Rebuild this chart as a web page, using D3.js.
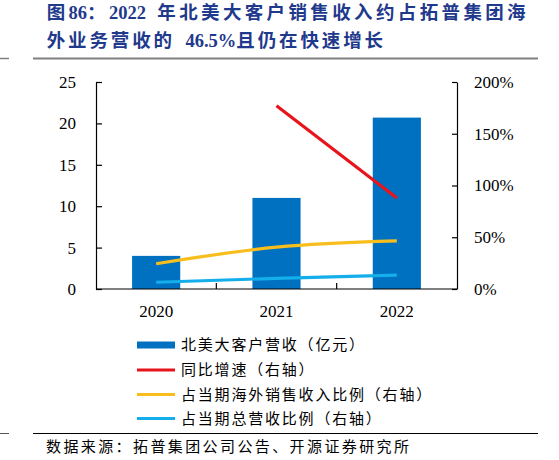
<!DOCTYPE html>
<html><head><meta charset="utf-8">
<script src="https://cdn.jsdelivr.net/npm/d3@7"></script>
<style>
body{margin:0;background:#fff;}
svg{display:block;}
</style></head>
<body>
<svg id="c" width="559" height="460"></svg>
<script>
const categories = ["2020","2021","2022"];
const revenue = [4.0, 11.0, 20.7];            // 北美大客户营收（亿元）
const growth = [null, 1.77, 0.88];            // 同比增速（右轴）
const overseasShare = [0.244, 0.405, 0.465];  // 占当期海外销售收入比例（右轴）
const totalShare = [0.065, 0.103, 0.135];     // 占当期总营收比例（右轴）
const leftTicks = [0,5,10,15,20,25];
const rightTicks = [0,0.5,1,1.5,2];
const legendLabels = ["北美大客户营收（亿元）","同比增速（右轴）","占当期海外销售收入比例（右轴）","占当期总营收比例（右轴）"];
const titleLines = ["图86：2022 年北美大客户销售收入约占拓普集团海","外业务营收的 46.5%且仍在快速增长"];
const sourceText = "数据来源：拓普集团公司公告、开源证券研究所";

const colors = {bar:"#0070C0", red:"#E8141B", yellow:"#F7BE1E", blue:"#14AEEB", title:"#1F3A8C"};
const svg = d3.select("#c");
const FONT_LAT = "'Liberation Serif','Times New Roman',serif";
const FONT_CJK = "'Liberation Serif','Noto Sans CJK SC',sans-serif";

// Title: split into CJK runs and spaces (spaced) and Latin runs (tight)
function titleLine(str, x, y, targetEnd){
  const runs = str.match(/[0-9.%]+|\s+|[^0-9.%\s]+/g);
  const t = svg.append("text").attr("x",x).attr("y",y).attr("xml:space","preserve")
    .attr("font-family",FONT_CJK).attr("font-weight","bold").attr("font-size",18.5).attr("fill",colors.title);
  const isLat = r => /[0-9.%]/.test(r[0]);
  const spans = runs.map(r=>t.append("tspan").text(r).attr("data-sp", isLat(r)?0:(/\s/.test(r[0])?2:1)));
  const count = runs.filter(r=>!isLat(r)).reduce((a,r)=>a+(/\s/.test(r[0])?2:r.length),0);
  const w0 = t.node().getComputedTextLength();
  const s = Math.max(0,(targetEnd - x - w0)/count);
  spans.forEach(sp=>{ const k=+sp.attr("data-sp"); if(k>0) sp.attr("letter-spacing",s*(k===2?2:1)); });
}
titleLine(titleLines[0],46.7,18.5,529);
titleLine(titleLines[1],46.7,46.5,386);
svg.append("line").attr("x1",33).attr("x2",538).attr("y1",58.5).attr("y2",58.5).attr("stroke","#808080").attr("stroke-width",2);
svg.append("line").attr("x1",0).attr("x2",9).attr("y1",58.5).attr("y2",58.5).attr("stroke","#808080").attr("stroke-width",1.5);

// Scales
const L=96, R=457, T=82, B=289;
const xBand = d3.scaleBand().domain(categories).range([L,R]).padding(0);
const xBar = d3.scaleBand().domain(categories).range([L,R]).paddingInner(0.6).paddingOuter(0.3);
const yL = d3.scaleLinear().domain([0,25]).range([B,T]);
const yR = d3.scaleLinear().domain([0,2]).range([B,T]);
const cx = d => xBand(d)+xBand.bandwidth()/2;

// Bars
svg.append("g").selectAll("rect").data(categories).join("rect")
  .attr("x",d=>xBar(d)).attr("width",xBar.bandwidth())
  .attr("y",(d,i)=>yL(revenue[i])).attr("height",(d,i)=>B-yL(revenue[i]))
  .attr("fill",colors.bar);

// Lines
function drawLine(vals,color,curve){
  const pts = categories.map((c,i)=>[c,vals[i]]).filter(p=>p[1]!=null);
  svg.append("path").datum(pts)
    .attr("d",d3.line().x(p=>cx(p[0])).y(p=>yR(p[1])).curve(curve))
    .attr("fill","none").attr("stroke",color).attr("stroke-width",3.2).attr("stroke-linecap","butt");
}
drawLine(growth,colors.red,d3.curveLinear);
drawLine(overseasShare,colors.yellow,d3.curveMonotoneX);
drawLine(totalShare,colors.blue,d3.curveMonotoneX);

// Axes
const axL = d3.axisLeft(yL).tickValues(leftTicks).tickSizeInner(-6).tickSizeOuter(0).tickPadding(20);
const gL = svg.append("g").attr("transform",`translate(${L},0)`).call(axL);
const axR = d3.axisRight(yR).tickValues(rightTicks).tickSizeInner(-5).tickSizeOuter(0).tickPadding(17)
  .tickFormat(d=>Math.round(d*100)+"%");
const gR = svg.append("g").attr("transform",`translate(${R},0)`).call(axR);
[gL,gR].forEach(g=>{
  g.selectAll("path,line").attr("stroke","#000").attr("stroke-width",1.2);
  g.selectAll("text").attr("font-family",FONT_LAT).attr("font-size",17).attr("fill","#000");
});
// x axis
svg.append("line").attr("x1",L).attr("x2",R).attr("y1",B).attr("y2",B).attr("stroke","#000").attr("stroke-width",1.2);
svg.append("g").selectAll("line").data(categories.slice(1)).join("line")
  .attr("x1",d=>xBand(d)).attr("x2",d=>xBand(d)).attr("y1",B).attr("y2",B-6)
  .attr("stroke","#000").attr("stroke-width",1.2);
svg.append("g").selectAll("text").data(categories).join("text")
  .attr("x",d=>cx(d)).attr("y",316.5).attr("text-anchor","middle")
  .attr("font-family",FONT_LAT).attr("font-size",17).attr("fill","#000").text(d=>d);

// Legend
const legY = [345,370,394.5,418.5];
const lg = svg.append("g");
legendLabels.forEach((lab,i)=>{
  if(i===0){
    lg.append("rect").attr("x",137).attr("y",legY[i]-3.5).attr("width",38).attr("height",7).attr("fill",colors.bar);
  } else {
    const c=[null,colors.red,colors.yellow,colors.blue][i];
    lg.append("line").attr("x1",137).attr("x2",175).attr("y1",legY[i]).attr("y2",legY[i]).attr("stroke",c).attr("stroke-width",3.2);
  }
  lg.append("text").attr("x",181).attr("y",legY[i]).attr("dy","0.36em").attr("letter-spacing",1.8)
    .attr("font-family","'Noto Sans CJK SC',sans-serif").attr("font-size",15).attr("fill","#000").text(lab);
});

// Footer
svg.append("line").attr("x1",33).attr("x2",538).attr("y1",433.5).attr("y2",433.5).attr("stroke","#000").attr("stroke-width",1.2);
svg.append("line").attr("x1",0).attr("x2",9).attr("y1",433.5).attr("y2",433.5).attr("stroke","#555").attr("stroke-width",1);
svg.append("text").attr("x",46).attr("y",447).attr("dy","0.36em").attr("letter-spacing",2.4)
  .attr("font-family","'Noto Sans CJK SC',sans-serif").attr("font-size",15).attr("fill","#000").text(sourceText);
</script>
</body></html>
